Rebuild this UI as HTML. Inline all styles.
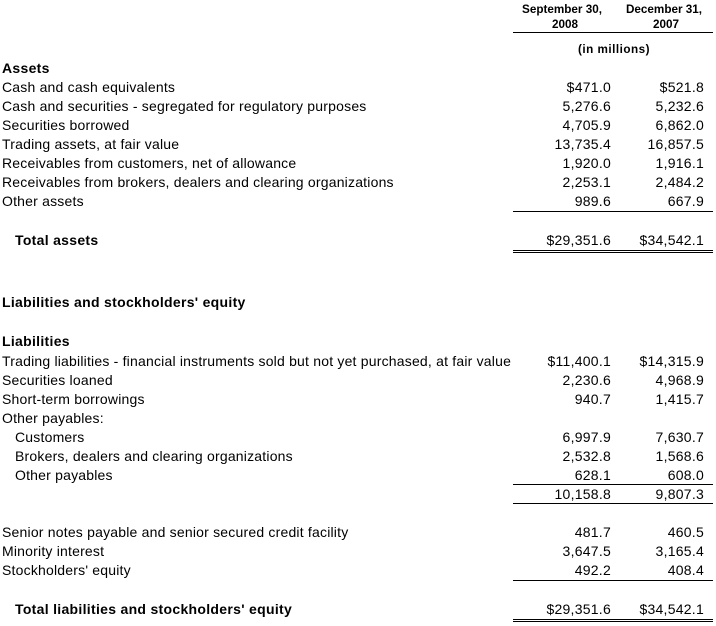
<!DOCTYPE html>
<html>
<head>
<meta charset="utf-8">
<style>
  html, body { margin: 0; padding: 0; background: #fff; }
  svg { display: block; }
  text { font-family: "Liberation Sans", Arial, sans-serif; fill: #000; }
  .t { font-size: 14px; letter-spacing: 0.2px; }
  .b { font-size: 14px; font-weight: bold; letter-spacing: 0.3px; }
  .h { font-size: 11.7px; font-weight: bold; text-anchor: middle; }
  .n { font-size: 14px; letter-spacing: 0.25px; text-anchor: end; }
</style>
</head>
<body>
<svg width="716" height="626" viewBox="0 0 716 626" xmlns="http://www.w3.org/2000/svg" shape-rendering="crispEdges">
  <!-- Header -->
  <text class="h" x="562" y="13">September 30,</text>
  <text class="h" x="565" y="28">2008</text>
  <text class="h" x="664" y="13">December 31,</text>
  <text class="h" x="666" y="28">2007</text>
  <rect x="513" y="32" width="200" height="1" fill="#000"/>
  <text class="h" x="614" y="53" style="letter-spacing:0.5px">(in millions)</text>

  <!-- Assets -->
  <text class="b" x="2" y="73">Assets</text>

  <text class="t" x="2" y="92">Cash and cash equivalents</text>
  <text class="n" x="611" y="92">$471.0</text>
  <text class="n" x="704" y="92">$521.8</text>

  <text class="t" x="2" y="111">Cash and securities - segregated for regulatory purposes</text>
  <text class="n" x="611" y="111">5,276.6</text>
  <text class="n" x="704" y="111">5,232.6</text>

  <text class="t" x="2" y="130">Securities borrowed</text>
  <text class="n" x="611" y="130">4,705.9</text>
  <text class="n" x="704" y="130">6,862.0</text>

  <text class="t" x="2" y="149">Trading assets, at fair value</text>
  <text class="n" x="611" y="149">13,735.4</text>
  <text class="n" x="704" y="149">16,857.5</text>

  <text class="t" x="2" y="168">Receivables from customers, net of allowance</text>
  <text class="n" x="611" y="168">1,920.0</text>
  <text class="n" x="704" y="168">1,916.1</text>

  <text class="t" x="2" y="187">Receivables from brokers, dealers and clearing organizations</text>
  <text class="n" x="611" y="187">2,253.1</text>
  <text class="n" x="704" y="187">2,484.2</text>

  <text class="t" x="2" y="206">Other assets</text>
  <text class="n" x="611" y="206">989.6</text>
  <text class="n" x="704" y="206">667.9</text>

  <rect x="513" y="211" width="200" height="1" fill="#000"/>

  <text class="b" x="15" y="245">Total assets</text>
  <text class="n" x="611" y="245">$29,351.6</text>
  <text class="n" x="704" y="245">$34,542.1</text>
  <rect x="513" y="250" width="200" height="1" fill="#000"/>
  <rect x="513" y="252" width="200" height="1" fill="#000"/>

  <!-- Liabilities -->
  <text class="b" x="2" y="307">Liabilities and stockholders' equity</text>

  <text class="b" x="2" y="346">Liabilities</text>

  <text class="t" x="2" y="366">Trading liabilities - financial instruments sold but not yet purchased, at fair value</text>
  <text class="n" x="611" y="366">$11,400.1</text>
  <text class="n" x="704" y="366">$14,315.9</text>

  <text class="t" x="2" y="385">Securities loaned</text>
  <text class="n" x="611" y="385">2,230.6</text>
  <text class="n" x="704" y="385">4,968.9</text>

  <text class="t" x="2" y="404">Short-term borrowings</text>
  <text class="n" x="611" y="404">940.7</text>
  <text class="n" x="704" y="404">1,415.7</text>

  <text class="t" x="2" y="423">Other payables:</text>

  <text class="t" x="15" y="442">Customers</text>
  <text class="n" x="611" y="442">6,997.9</text>
  <text class="n" x="704" y="442">7,630.7</text>

  <text class="t" x="15" y="461">Brokers, dealers and clearing organizations</text>
  <text class="n" x="611" y="461">2,532.8</text>
  <text class="n" x="704" y="461">1,568.6</text>

  <text class="t" x="15" y="480">Other payables</text>
  <text class="n" x="611" y="480">628.1</text>
  <text class="n" x="704" y="480">608.0</text>

  <rect x="513" y="484" width="200" height="1" fill="#000"/>
  <text class="n" x="611" y="499">10,158.8</text>
  <text class="n" x="704" y="499">9,807.3</text>
  <rect x="513" y="503" width="200" height="1" fill="#000"/>

  <text class="t" x="2" y="537">Senior notes payable and senior secured credit facility</text>
  <text class="n" x="611" y="537">481.7</text>
  <text class="n" x="704" y="537">460.5</text>

  <text class="t" x="2" y="556">Minority interest</text>
  <text class="n" x="611" y="556">3,647.5</text>
  <text class="n" x="704" y="556">3,165.4</text>

  <text class="t" x="2" y="575">Stockholders' equity</text>
  <text class="n" x="611" y="575">492.2</text>
  <text class="n" x="704" y="575">408.4</text>

  <rect x="513" y="580" width="200" height="1" fill="#000"/>

  <text class="b" x="15" y="614">Total liabilities and stockholders' equity</text>
  <text class="n" x="611" y="614">$29,351.6</text>
  <text class="n" x="704" y="614">$34,542.1</text>
  <rect x="513" y="619" width="200" height="1" fill="#000"/>
  <rect x="513" y="621" width="200" height="1" fill="#000"/>
</svg>
</body>
</html>
